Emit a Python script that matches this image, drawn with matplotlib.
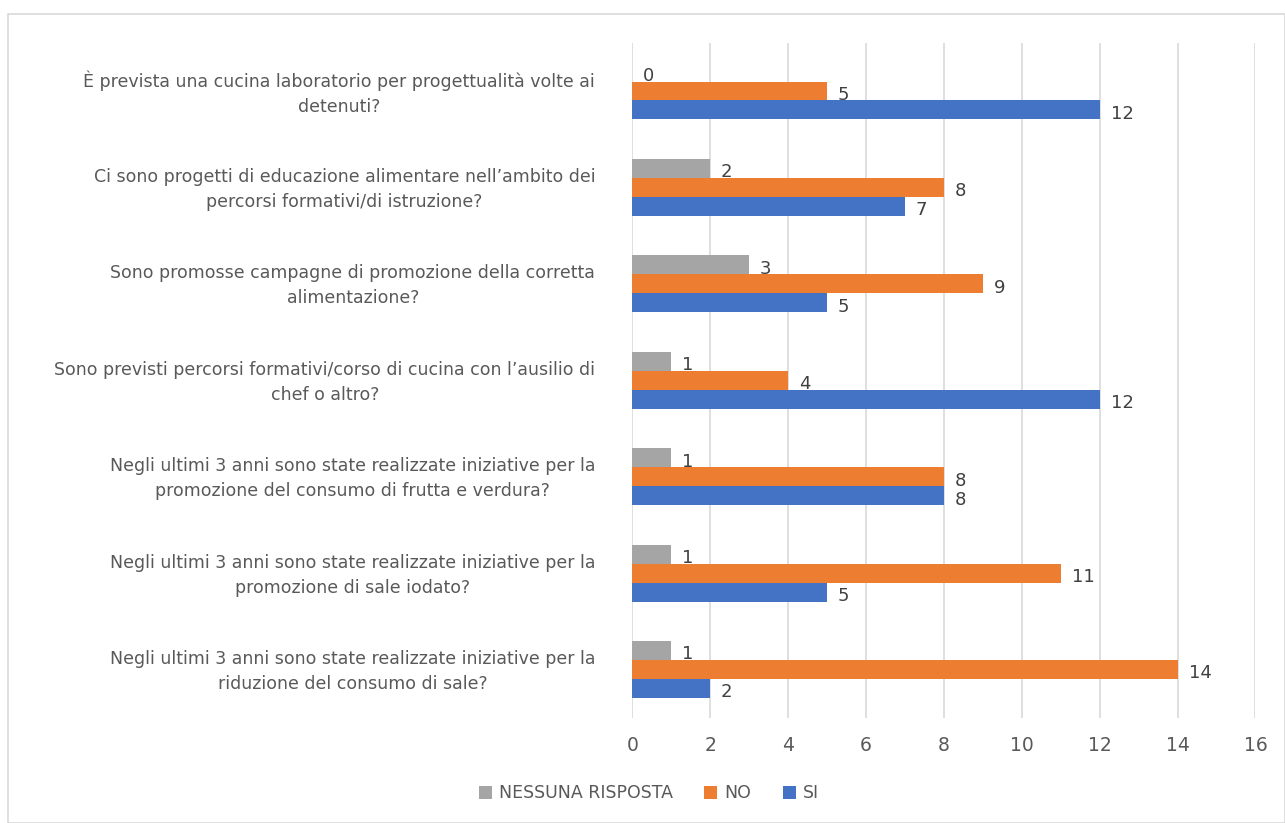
import matplotlib.pyplot as plt
import numpy as np
from matplotlib.patches import Rectangle

plt.rcParams['font.family'] = ['DejaVu Sans']

# categories listed top to bottom as in the chart
categories = [
    "È prevista una cucina laboratorio per progettualità volte ai\ndetenuti?",
    "Ci sono progetti di educazione alimentare nell’ambito dei\npercorsi formativi/di istruzione?",
    "Sono promosse campagne di promozione della corretta\nalimentazione?",
    "Sono previsti percorsi formativi/corso di cucina con l’ausilio di\nchef o altro?",
    "Negli ultimi 3 anni sono state realizzate iniziative per la\npromozione del consumo di frutta e verdura?",
    "Negli ultimi 3 anni sono state realizzate iniziative per la\npromozione di sale iodato?",
    "Negli ultimi 3 anni sono state realizzate iniziative per la\nriduzione del consumo di sale?",
]
si = [12, 7, 5, 12, 8, 5, 2]
no = [5, 8, 9, 4, 8, 11, 14]
nessuna = [0, 2, 3, 1, 1, 1, 1]

series_names = ["NESSUNA RISPOSTA", "NO", "SI"]
colors = {"SI": "#4472C4", "NO": "#ED7D31", "NESSUNA RISPOSTA": "#A5A5A5"}
text_col = "#595959"

fig = plt.figure(figsize=(12.85, 8.23), dpi=100)
ax = fig.add_axes([0.492, 0.128, 0.485, 0.820])

n = len(categories)
y = np.arange(n)[::-1]  # first category at top
h = 0.197

bars = {}
bars["SI"] = ax.barh(y - h, si, height=h, color=colors["SI"])
bars["NO"] = ax.barh(y, no, height=h, color=colors["NO"])
bars["NESSUNA RISPOSTA"] = ax.barh(y + h, nessuna, height=h, color=colors["NESSUNA RISPOSTA"])

for key, vals, offs in [("SI", si, -h), ("NO", no, 0), ("NESSUNA RISPOSTA", nessuna, h)]:
    for yi, v in zip(y, vals):
        ax.annotate(str(v), (v, yi + offs), xytext=(11, -4), textcoords="offset pixels",
                    ha="left", va="center", fontsize=13, color="#404040")

ax.set_xlim(0, 16)
ax.set_ylim(-0.5, n - 0.5)
ax.set_xticks(range(0, 17, 2))
ax.xaxis.grid(True, color="#D9D9D9", linewidth=1.2)
ax.set_axisbelow(True)
for s in ax.spines.values():
    s.set_visible(False)
ax.tick_params(axis="x", length=0, pad=13, labelsize=13.5, labelcolor=text_col)
ax.set_yticks([])

# category labels
for yi, lab in zip(y, categories):
    ax.annotate(lab, (0, yi), xytext=(-37, -2), textcoords="offset pixels",
                ha="right", va="center", multialignment="center",
                fontsize=12.5, color=text_col, linespacing=1.5)

handles = [bars[k] for k in series_names]
fig.legend(handles, series_names, loc="center", bbox_to_anchor=(0.505, 0.036), ncol=3,
           frameon=False, fontsize=12.5, labelcolor=text_col, handlelength=0.75,
           handleheight=0.75, handletextpad=0.4, columnspacing=1.8)

fig.patches.append(Rectangle((8 / 1285, 0), 1 - 8 / 1285, 1 - 14 / 823, transform=fig.transFigure,
                             fill=False, edgecolor="#D9D9D9", linewidth=1.2))

fig.savefig("out.png", dpi=100)
